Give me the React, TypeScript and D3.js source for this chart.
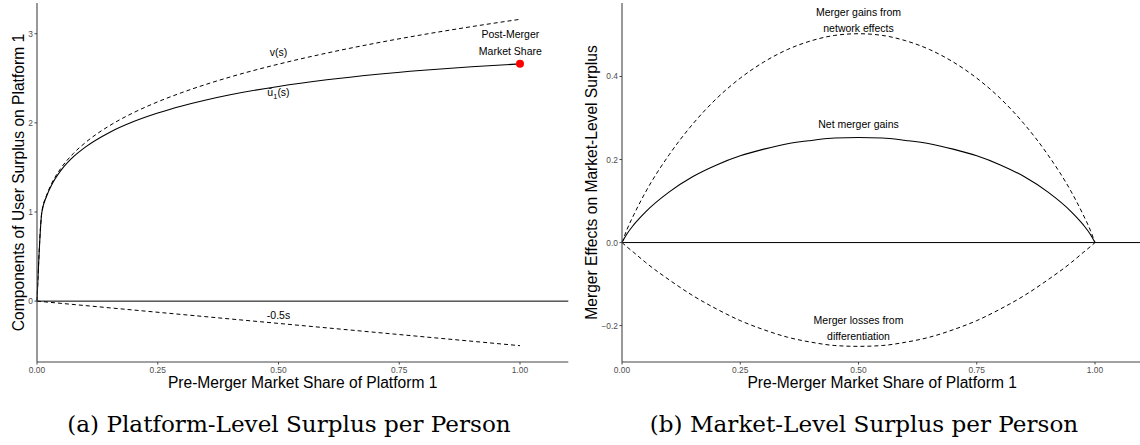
import React from "react";
import * as d3 from "d3";

// Panel (a): user surplus components on platform 1
const shareA = [0, 0.01, 0.02, 0.03, 0.05, 0.075, 0.1, 0.15, 0.2, 0.25, 0.3, 0.35, 0.4, 0.5, 0.6, 0.7, 0.8, 0.9, 1.0];
const networkValue = [0, 1.0, 1.189, 1.316, 1.495, 1.655, 1.778, 1.968, 2.115, 2.236, 2.34, 2.432, 2.515, 2.659, 2.783, 2.893, 2.991, 3.08, 3.162];
const userSurplus = [0, 0.995, 1.179, 1.301, 1.47, 1.618, 1.728, 1.893, 2.015, 2.111, 2.19, 2.257, 2.315, 2.409, 2.483, 2.543, 2.591, 2.63, 2.662];
const diffShare = [0, 1.0];
const diffCost = [0, -0.5];
const postMerger = { s: 1.0, u: 2.662 };

// Panel (b): market-level merger effects
const shareB = [0, 0.01, 0.025, 0.05, 0.1, 0.15, 0.2, 0.25, 0.3, 0.35, 0.4, 0.45, 0.5, 0.55, 0.6, 0.65, 0.7, 0.75, 0.8, 0.85, 0.9, 0.95, 0.975, 0.99, 1.0];
const networkGains = [0, 0.03, 0.067, 0.122, 0.212, 0.286, 0.347, 0.396, 0.435, 0.465, 0.486, 0.499, 0.503, 0.499, 0.486, 0.465, 0.435, 0.396, 0.347, 0.286, 0.212, 0.122, 0.067, 0.03, 0];
const diffLosses = [0, -0.01, -0.024, -0.048, -0.09, -0.128, -0.16, -0.188, -0.21, -0.228, -0.24, -0.248, -0.25, -0.248, -0.24, -0.228, -0.21, -0.188, -0.16, -0.128, -0.09, -0.048, -0.024, -0.01, 0];
const netGains = [0, 0.02, 0.043, 0.074, 0.122, 0.159, 0.187, 0.209, 0.225, 0.238, 0.246, 0.252, 0.253, 0.252, 0.246, 0.238, 0.225, 0.209, 0.187, 0.159, 0.122, 0.074, 0.043, 0.02, 0];

const xTicks = [0, 0.25, 0.5, 0.75, 1.0];
const yTicksA = [0, 1, 2, 3];
const yTicksB = [-0.2, 0, 0.2, 0.4];

const SANS = "'Liberation Sans', Arial, Helvetica, sans-serif";
const SERIF = "'DejaVu Serif', 'Liberation Serif', serif";
const DASH = "4,3";

type PanelProps = {
  left: number;
  right: number;
  yDomain: [number, number];
  yTicks: number[];
  yFormat: (v: number) => string;
  yTitle: string;
  yTitleX: number;
  children: (x: d3.ScaleLinear<number, number>, y: d3.ScaleLinear<number, number>) => React.ReactNode;
};

const TOP = 3;
const BOTTOM = 362;

function Panel({ left, right, yDomain, yTicks, yFormat, yTitle, yTitleX, children }: PanelProps) {
  const x = d3.scaleLinear().domain([0, 1.1]).range([left, right]);
  const y = d3.scaleLinear().domain(yDomain).range([BOTTOM, TOP]);
  const xEnd = Math.min(x(1.1), 1140);
  const fmtX = d3.format(".2f");
  return (
    <g>
      {/* zero reference line */}
      <line x1={x(0)} x2={xEnd} y1={y(0)} y2={y(0)} stroke="#000" strokeWidth={1} />
      {children(x, y)}
      {/* axes */}
      <line x1={x(0)} x2={x(0)} y1={TOP} y2={BOTTOM} stroke="#444" strokeWidth={1.1} />
      <line x1={x(0)} x2={xEnd} y1={BOTTOM} y2={BOTTOM} stroke="#444" strokeWidth={1.1} />
      {xTicks.map((t) => (
        <g key={"x" + t}>
          <line x1={x(t)} x2={x(t)} y1={BOTTOM} y2={BOTTOM + 2.5} stroke="#444" strokeWidth={1} />
          <text x={x(t)} y={BOTTOM + 11} textAnchor="middle" fontSize={8.4} fill="#4d4d4d" fontFamily={SANS}>
            {fmtX(t)}
          </text>
        </g>
      ))}
      {yTicks.map((t) => (
        <g key={"y" + t}>
          <line x1={x(0) - 2.5} x2={x(0)} y1={y(t)} y2={y(t)} stroke="#444" strokeWidth={1} />
          <text x={x(0) - 4} y={y(t) + 3} textAnchor="end" fontSize={8.4} fill="#4d4d4d" fontFamily={SANS}>
            {yFormat(t)}
          </text>
        </g>
      ))}
      <text x={(x(0) + x(1.1)) / 2} y={388} textAnchor="middle" fontSize={15.6} fill="#000" fontFamily={SANS}>
        Pre-Merger Market Share of Platform 1
      </text>
      <text
        transform={`translate(${yTitleX},${(TOP + BOTTOM) / 2}) rotate(-90)`}
        textAnchor="middle"
        fontSize={15.6}
        fill="#000"
        fontFamily={SANS}
      >
        {yTitle}
      </text>
    </g>
  );
}

function pathFrom(xs: number[], ys: number[], x: d3.ScaleLinear<number, number>, y: d3.ScaleLinear<number, number>, curve: d3.CurveFactory) {
  const pts: [number, number][] = xs.map((s, i) => [s, ys[i]]);
  return d3
    .line<[number, number]>()
    .x((d) => x(d[0]))
    .y((d) => y(d[1]))
    .curve(curve)(pts) as string;
}

export default function App() {
  const labelStyle = { fontSize: 10.5, fontFamily: SANS, fill: "#000" };
  return (
    <svg width={1140} height={445} style={{ position: "absolute", left: 0, top: 0, background: "#fff" }}>
      <rect width={1140} height={445} fill="#fff" />
      <Panel
        left={37}
        right={568.3}
        yDomain={[-0.683, 3.345]}
        yTicks={yTicksA}
        yFormat={(v) => d3.format("d")(v)}
        yTitle="Components of User Surplus on Platform 1"
        yTitleX={24}
      >
        {(x, y) => (
          <g>
            <path d={pathFrom(shareA, networkValue, x, y, d3.curveMonotoneX)} fill="none" stroke="#000" strokeWidth={1} strokeDasharray={DASH} />
            <path d={pathFrom(shareA, userSurplus, x, y, d3.curveMonotoneX)} fill="none" stroke="#000" strokeWidth={1.1} />
            <path d={pathFrom(diffShare, diffCost, x, y, d3.curveLinear)} fill="none" stroke="#000" strokeWidth={1} strokeDasharray={DASH} />
            <circle cx={x(postMerger.s)} cy={y(postMerger.u)} r={4} fill="#ff0000" />
            <text x={x(0.5)} y={y(2.75)} textAnchor="middle" {...labelStyle}>v(s)</text>
            <text x={x(0.5)} y={y(2.3)} textAnchor="middle" {...labelStyle}>
              ū<tspan fontSize={7.5} dy={2.5}>1</tspan>
              <tspan dy={-2.5}>(s)</tspan>
            </text>
            <text x={x(0.5)} y={y(-0.2)} textAnchor="middle" {...labelStyle}>-0.5s</text>
            <text x={x(0.98)} y={y(2.95)} textAnchor="middle" {...labelStyle}>Post-Merger</text>
            <text x={x(0.98)} y={y(2.76)} textAnchor="middle" {...labelStyle}>Market Share</text>
          </g>
        )}
      </Panel>
      <Panel
        left={622}
        right={1142.3}
        yDomain={[-0.2877, 0.577]}
        yTicks={yTicksB}
        yFormat={(v) => d3.format(".1f")(v)}
        yTitle="Merger Effects on Market-Level Surplus"
        yTitleX={597}
      >
        {(x, y) => (
          <g>
            <path d={pathFrom(shareB, networkGains, x, y, d3.curveMonotoneX)} fill="none" stroke="#000" strokeWidth={1} strokeDasharray={DASH} />
            <path d={pathFrom(shareB, diffLosses, x, y, d3.curveMonotoneX)} fill="none" stroke="#000" strokeWidth={1} strokeDasharray={DASH} />
            <path d={pathFrom(shareB, netGains, x, y, d3.curveMonotoneX)} fill="none" stroke="#000" strokeWidth={1.1} />
            <text x={x(0.5)} y={y(0.545)} textAnchor="middle" {...labelStyle}>Merger gains from</text>
            <text x={x(0.5)} y={y(0.506)} textAnchor="middle" {...labelStyle}>network effects</text>
            <text x={x(0.5)} y={y(0.277)} textAnchor="middle" {...labelStyle}>Net merger gains</text>
            <text x={x(0.5)} y={y(-0.197)} textAnchor="middle" {...labelStyle}>Merger losses from</text>
            <text x={x(0.5)} y={y(-0.235)} textAnchor="middle" {...labelStyle}>differentiation</text>
          </g>
        )}
      </Panel>
      <text x={289} y={432} textAnchor="middle" fontSize={23.1} fontFamily={SERIF} fill="#000">
        (a) Platform-Level Surplus per Person
      </text>
      <text x={864} y={432} textAnchor="middle" fontSize={23.1} fontFamily={SERIF} fill="#000">
        (b) Market-Level Surplus per Person
      </text>
    </svg>
  );
}
